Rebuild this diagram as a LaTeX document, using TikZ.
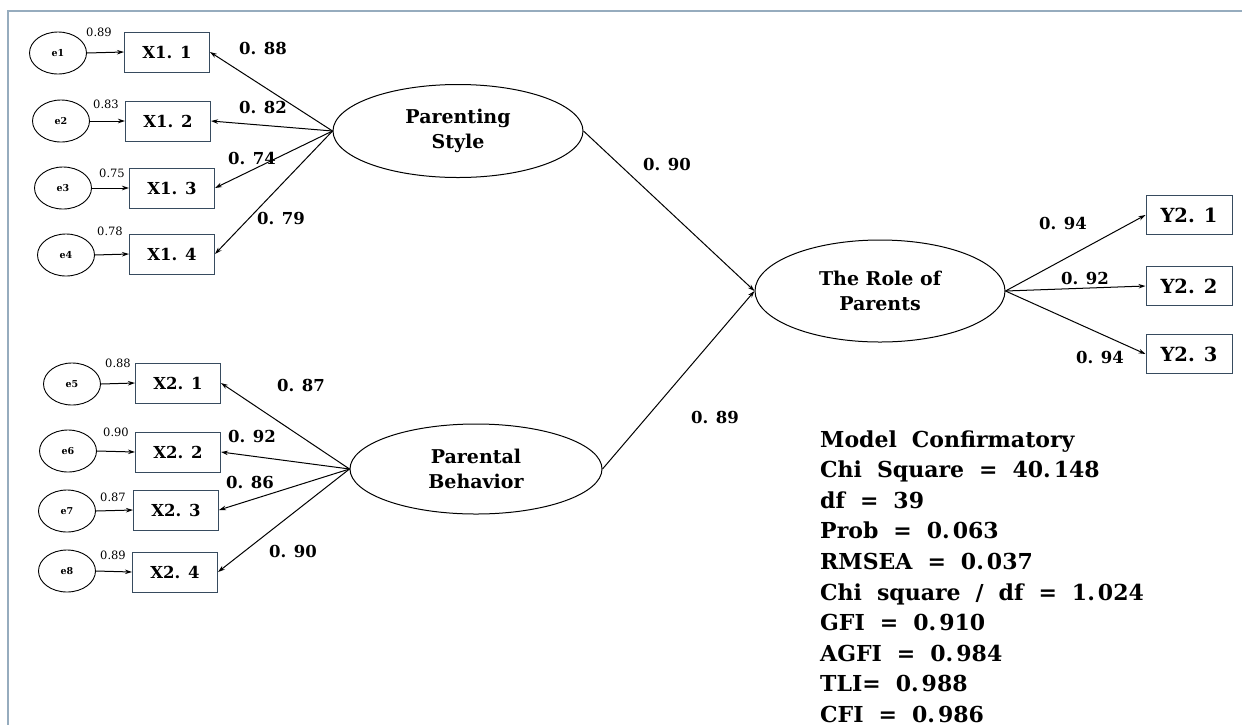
\documentclass[tikz,border=0pt]{standalone}
\usepackage{fontspec}
\newfontfamily\simf{DejaVu Serif}
\usetikzlibrary{shapes.geometric,arrows.meta}
\definecolor{framec}{RGB}{150,172,190}
\definecolor{boxc}{RGB}{55,75,95}
\newcommand\mf[1]{\fontsize{#1pt}{25pt}\selectfont\simf\bfseries}
\newcommand\mfr[1]{\fontsize{#1pt}{25pt}\selectfont\simf}
\newcommand\msf[1]{\fontsize{#1pt}{25pt}\selectfont\simf\bfseries\spaceskip=15pt\relax}
\newcommand\dg{.\kern3pt}
\begin{document}
\begin{tikzpicture}[x=1pt,y=-1pt,
  obs/.style={draw=boxc, line width=1pt, minimum width=85pt, minimum height=40pt, inner sep=0pt, font=\mf{16.5}},
  obsy/.style={obs, minimum width=86pt, minimum height=39pt, font=\mf{19.5}},
  lat/.style={draw, ellipse, line width=1pt, inner sep=0pt, align=center, font=\mf{19}},
  err/.style={draw, ellipse, line width=0.9pt, minimum width=57pt, minimum height=42pt, inner sep=0pt, font=\mf{9.5}},
  arr/.style={-{Stealth[length=7pt,width=4.5pt]}, line width=1pt},
  lab/.style={font=\mf{16.5}, inner sep=0pt},
  slab/.style={font=\mfr{11.5}, inner sep=0pt},
  stat/.style={font=\msf{22}, inner sep=0pt, anchor=base west}]
\useasboundingbox (0,0) rectangle (1242,724);
\fill[white] (0,0) rectangle (1242,724);
\draw[framec, line width=2.5pt] (8,726) -- (8,11) -- (1244,11);
% error terms
\node[err] (e1) at (58,53) {e1};
\node[err] (e2) at (61,121) {e2};
\node[err] (e3) at (63,188) {e3};
\node[err] (e4) at (66,255) {e4};
\node[err] (e5) at (72,384) {e5};
\node[err] (e6) at (68,451) {e6};
\node[err] (e7) at (67,511) {e7};
\node[err] (e8) at (67,571) {e8};
% observed
\node[obs] (x11) at (167,52) {X1. 1};
\node[obs] (x12) at (168,121) {X1. 2};
\node[obs] (x13) at (172,188) {X1. 3};
\node[obs] (x14) at (172,254) {X1. 4};
\node[obs] (x21) at (178,383) {X2. 1};
\node[obs] (x22) at (178,452) {X2. 2};
\node[obs] (x23) at (176,510) {X2. 3};
\node[obs] (x24) at (175,572) {X2. 4};
\node[obsy] (y21) at (1189,215) {Y2. 1};
\node[obsy] (y22) at (1189,286) {Y2. 2};
\node[obsy] (y23) at (1189,354) {Y2. 3};
% latent
\node[lat, minimum width=250pt, minimum height=93pt] (ps) at (458,131) {Parenting\\Style};
\node[lat, minimum width=252pt, minimum height=90pt] (pb) at (476,469) {Parental\\Behavior};
\node[lat, minimum width=250pt, minimum height=102pt] (rp) at (880,291) {The Role of\\Parents};
% error arrows
\foreach \e/\x in {e1/x11,e2/x12,e3/x13,e4/x14,e5/x21,e6/x22,e7/x23,e8/x24}
  \draw[arr] (\e.east) -- (\x.west);
% loadings
\foreach \x in {x11,x12,x13,x14} \draw[arr] (ps.west) -- (\x.east);
\foreach \x in {x21,x22,x23,x24} \draw[arr] (pb.west) -- (\x.east);
\foreach \y in {y21,y22,y23} \draw[arr] (rp.east) -- (\y.west);
\draw[arr] (ps.east) -- (rp.west);
\draw[arr] (pb.east) -- (rp.west);
% labels
\node[lab] (l1) at (263,48) {0. 88};
\node[lab] (l2) at (263,107) {0. 82};
\node[lab] (l3) at (252,158) {0. 74};
\node[lab] (l4) at (281,218) {0. 79};
\node[lab] (l5) at (301,385) {0. 87};
\node[lab] (l6) at (252,436) {0. 92};
\node[lab] (l7) at (250,482) {0. 86};
\node[lab] (l8) at (293,551) {0. 90};
\node[lab] (l9) at (667,164) {0. 90};
\node[lab] (l10) at (715,417) {0. 89};
\node[lab] (l11) at (1063,223) {0. 94};
\node[lab] (l12) at (1085,278) {0. 92};
\node[lab] (l13) at (1100,357) {0. 94};
\node[slab] (s1) at (99,32) {0.89};
\node[slab] (s2) at (106,104) {0.83};
\node[slab] (s3) at (112,173) {0.75};
\node[slab] (s4) at (110,231) {0.78};
\node[slab] (s5) at (118,363) {0.88};
\node[slab] (s6) at (116,432) {0.90};
\node[slab] (s7) at (113,497) {0.87};
\node[slab] (s8) at (113,555) {0.89};
% fit statistics
\foreach \t [count=\i from 0] in {Model Confirmatory,Chi Square = 40\dg148,df = 39,Prob = 0\dg063,RMSEA = 0\dg037,Chi square / df = 1\dg024,GFI = 0\dg910,AGFI = 0\dg984,TLI= 0\dg988,CFI = 0\dg986}
  \node[stat] (st\i) at (820,447+30.6*\i) {\t};
\end{tikzpicture}
\end{document}
